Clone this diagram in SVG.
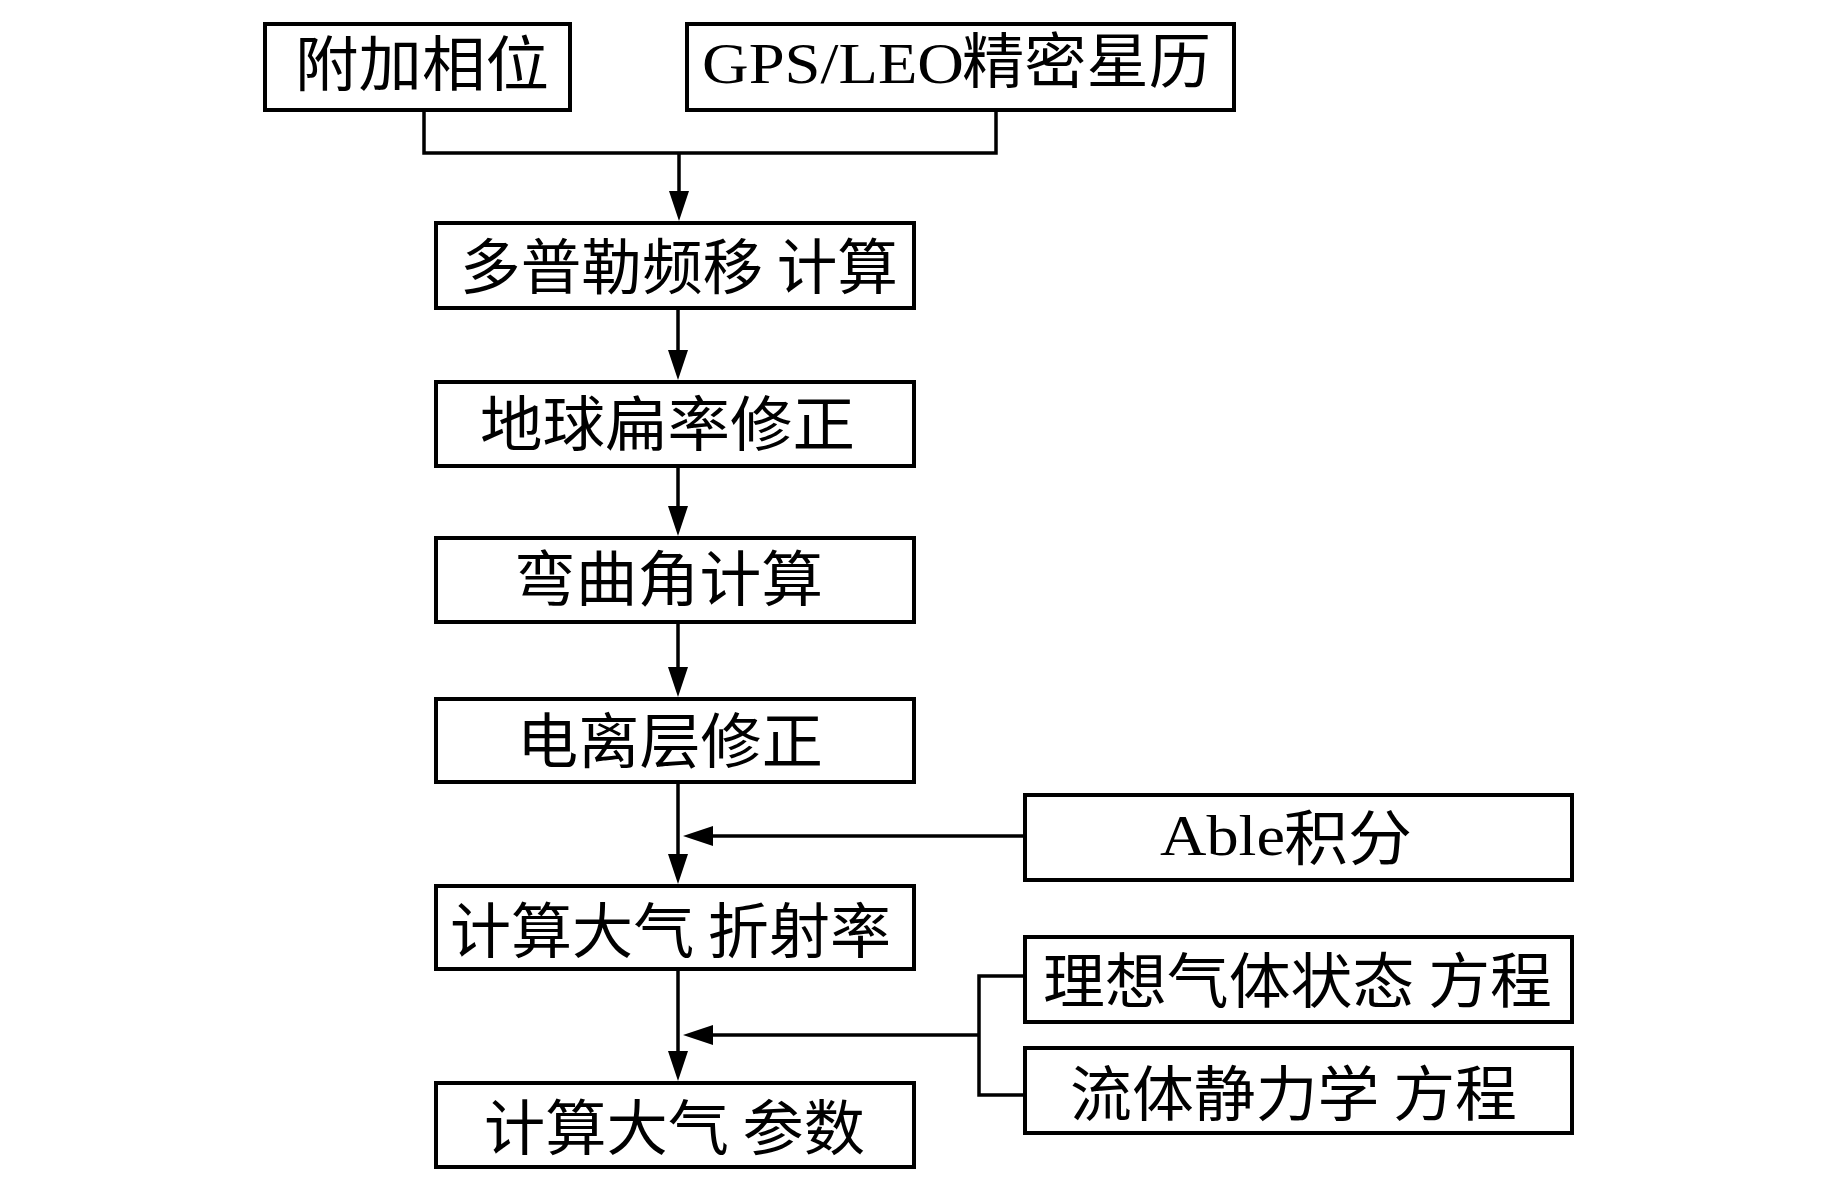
<svg xmlns="http://www.w3.org/2000/svg" width="1843" height="1181" viewBox="0 0 1843 1181">
<style>
.box{fill:#fff;stroke:#000;stroke-width:4}
.cn{font-family:"Noto Sans CJK SC","Liberation Serif",serif;font-size:60px;fill:#000}
.lat{font-family:"Liberation Serif","Noto Sans CJK SC",serif;fill:#000}
.ln{fill:none;stroke:#000;stroke-width:3.5}
</style>
<defs>
<marker id="arr" markerWidth="30" markerHeight="20" refX="20" refY="10" orient="auto" markerUnits="userSpaceOnUse"><path d="M0,0 L30,10 L0,20 z" fill="#000"/></marker>
</defs>
<rect width="1843" height="1181" fill="#fff"/>
<g id="connectors">
<polyline class="ln" points="424,112 424,153 996,153 996,112"/>
<line class="ln" x1="679" y1="153" x2="679" y2="211" marker-end="url(#arr)"/>
<line class="ln" x1="678" y1="310" x2="678" y2="370" marker-end="url(#arr)"/>
<line class="ln" x1="678" y1="468" x2="678" y2="526" marker-end="url(#arr)"/>
<line class="ln" x1="678" y1="624" x2="678" y2="687" marker-end="url(#arr)"/>
<line class="ln" x1="678" y1="784" x2="678" y2="874" marker-end="url(#arr)"/>
<line class="ln" x1="678" y1="971" x2="678" y2="1071" marker-end="url(#arr)"/>
<line class="ln" x1="1023" y1="836" x2="693" y2="836" marker-end="url(#arr)"/>
<polyline class="ln" points="1023,976 979,976 979,1095 1023,1095"/>
<line class="ln" x1="979" y1="1035" x2="693" y2="1035" marker-end="url(#arr)"/>
</g>
<g id="n_phase">
<rect class="box" x="265" y="24" width="305" height="86"/>
<text class="cn" x="295" y="86" textLength="254" lengthAdjust="spacingAndGlyphs">附加相位</text>
</g>
<g id="n_gps">
<rect class="box" x="687" y="24" width="547" height="86"/>
<text class="cn"><tspan class="lat" x="702" y="83" font-size="57" textLength="262" lengthAdjust="spacingAndGlyphs">GPS/LEO</tspan><tspan x="962" y="83" textLength="249" lengthAdjust="spacingAndGlyphs">精密星历</tspan></text>
</g>
<g id="n_doppler">
<rect class="box" x="436" y="223" width="478" height="85"/>
<text class="cn" x="460" y="289" textLength="438" lengthAdjust="spacingAndGlyphs">多普勒频移 计算</text>
</g>
<g id="n_earth">
<rect class="box" x="436" y="382" width="478" height="84"/>
<text class="cn" x="480" y="446" textLength="375" lengthAdjust="spacingAndGlyphs">地球扁率修正</text>
</g>
<g id="n_bend">
<rect class="box" x="436" y="538" width="478" height="84"/>
<text class="cn" x="514" y="601" textLength="309" lengthAdjust="spacingAndGlyphs">弯曲角计算</text>
</g>
<g id="n_iono">
<rect class="box" x="436" y="699" width="478" height="83"/>
<text class="cn" x="517" y="763" textLength="306" lengthAdjust="spacingAndGlyphs">电离层修正</text>
</g>
<g id="n_refr">
<rect class="box" x="436" y="886" width="478" height="83"/>
<text class="cn" x="450" y="953" textLength="441" lengthAdjust="spacingAndGlyphs">计算大气 折射率</text>
</g>
<g id="n_param">
<rect class="box" x="436" y="1083" width="478" height="84"/>
<text class="cn" x="484" y="1150" textLength="381" lengthAdjust="spacingAndGlyphs">计算大气 参数</text>
</g>
<g id="n_able">
<rect class="box" x="1025" y="795" width="547" height="85"/>
<text class="cn"><tspan class="lat" x="1160" y="855" font-size="57" textLength="125" lengthAdjust="spacingAndGlyphs">Able</tspan><tspan x="1284" y="860" textLength="128" lengthAdjust="spacingAndGlyphs">积分</tspan></text>
</g>
<g id="n_ideal">
<rect class="box" x="1025" y="937" width="547" height="85"/>
<text class="cn" x="1043" y="1003" textLength="509" lengthAdjust="spacingAndGlyphs">理想气体状态 方程</text>
</g>
<g id="n_fluid">
<rect class="box" x="1025" y="1048" width="547" height="85"/>
<text class="cn" x="1070" y="1116" textLength="447" lengthAdjust="spacingAndGlyphs">流体静力学 方程</text>
</g>
</svg>
